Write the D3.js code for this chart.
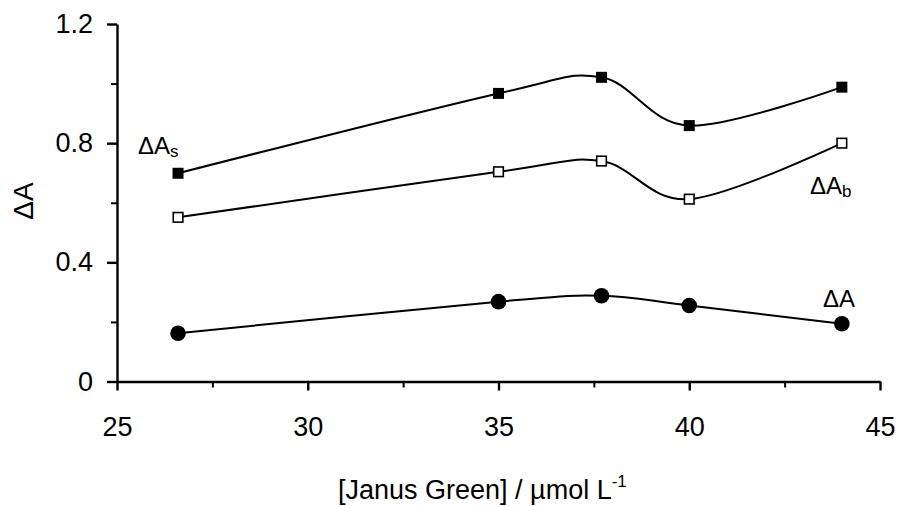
<!DOCTYPE html>
<html>
<head>
<meta charset="utf-8">
<script src="https://cdn.jsdelivr.net/npm/d3@7.9.0/dist/d3.min.js"></script>
<style>
  body { margin: 0; background: #fff; }
  svg { font-family: "Liberation Sans", Arial, sans-serif; }
</style>
</head>
<body>
<svg id="chart" width="901" height="506"></svg>
<script>
// concentrations of Janus Green (umol/L)
const conc = [26.6, 35, 37.7, 40, 44];
// absorbance series
const dAs = [0.699, 0.967, 1.021, 0.859, 0.988];
const dAb = [0.551, 0.704, 0.740, 0.612, 0.800];
const dA  = [0.162, 0.268, 0.288, 0.255, 0.194];

const xTicks = [25, 30, 35, 40, 45];
const xMinor = [27.5, 32.5, 37.5, 42.5];
const yTicks = [0, 0.4, 0.8, 1.2];
const yTickLabels = ['0', '0.4', '0.8', '1.2'];
const yMinor = [0.2, 0.6, 1.0];

const svg = d3.select('#chart');

const x = d3.scaleLinear().domain([25, 45]).range([117, 880]);
const y = d3.scaleLinear().domain([0, 1.2]).range([381.5, 24]);

// minor ticks first (no labels)
svg.append('g')
  .attr('transform', `translate(0,${y(0)})`)
  .call(d3.axisBottom(x).tickValues(xMinor).tickSize(6).tickFormat(''))
  .call(g => g.select('.domain').remove())
  .call(g => g.selectAll('line').attr('stroke-width', 2));

svg.append('g')
  .attr('transform', `translate(${x(25)},0)`)
  .call(d3.axisLeft(y).tickValues(yMinor).tickSize(6).tickFormat(''))
  .call(g => g.select('.domain').remove())
  .call(g => g.selectAll('line').attr('stroke-width', 2));

// main axes
const xAxis = svg.append('g')
  .attr('transform', `translate(0,${y(0)})`)
  .call(d3.axisBottom(x).tickValues(xTicks).tickSize(9).tickSizeOuter(0).tickPadding(26));
xAxis.selectAll('line, path').attr('stroke-width', 2.4);
xAxis.selectAll('text')
  .attr('font-size', 27)
  .attr('fill', '#000')
  .attr('font-family', '"Liberation Sans", Arial, sans-serif');

const yAxis = svg.append('g')
  .attr('transform', `translate(${x(25)},0)`)
  .call(d3.axisLeft(y).tickValues(yTicks).tickSize(10).tickSizeOuter(0)
    .tickPadding(14).tickFormat((d, i) => yTickLabels[i]));
yAxis.selectAll('line, path').attr('stroke-width', 2.4);
yAxis.selectAll('text')
  .attr('font-size', 27)
  .attr('fill', '#000')
  .attr('font-family', '"Liberation Sans", Arial, sans-serif');

// axis titles
const xt = svg.append('text')
  .attr('x', 338).attr('y', 499)
  .attr('font-size', 27);
xt.append('tspan').text('[Janus Green] / \u00b5mol L');
xt.append('tspan').attr('font-size', 17).attr('dy', -12).text('-1');

svg.append('text')
  .attr('transform', 'translate(33,201) rotate(-90)')
  .attr('text-anchor', 'middle')
  .attr('font-size', 28)
  .text('\u0394A');

// lines
const line = d3.line()
  .x(d => x(d[0]))
  .y(d => y(d[1]))
  .curve(d3.curveCardinal.tension(0));

const series = [
  { vals: dAs, marker: 'filledSquare' },
  { vals: dAb, marker: 'openSquare' },
  { vals: dA, marker: 'circle' }
];

series.forEach(s => {
  const pts = conc.map((c, i) => [c, s.vals[i]]);
  svg.append('path')
    .datum(pts)
    .attr('d', line)
    .attr('fill', 'none')
    .attr('stroke', '#000')
    .attr('stroke-width', 2);

  if (s.marker === 'circle') {
    svg.selectAll(null)
      .data(pts)
      .join('circle')
      .attr('cx', d => x(d[0]))
      .attr('cy', d => y(d[1]))
      .attr('r', 7.8)
      .attr('fill', '#000');
  } else if (s.marker === 'filledSquare') {
    svg.selectAll(null)
      .data(pts)
      .join('rect')
      .attr('x', d => x(d[0]) - 5.5)
      .attr('y', d => y(d[1]) - 5.5)
      .attr('width', 11).attr('height', 11)
      .attr('fill', '#000');
  } else {
    svg.selectAll(null)
      .data(pts)
      .join('rect')
      .attr('x', d => x(d[0]) - 4.8)
      .attr('y', d => y(d[1]) - 4.8)
      .attr('width', 9.6).attr('height', 9.6)
      .attr('fill', '#fff')
      .attr('stroke', '#000')
      .attr('stroke-width', 1.6);
  }
});

// series labels
function seriesLabel(px, py, sub) {
  const t = svg.append('text').attr('x', px).attr('y', py).attr('font-size', 24);
  t.append('tspan').text('\u0394A');
  if (sub) t.append('tspan').attr('font-size', 17).attr('dy', 3).text(sub);
}
seriesLabel(138, 154, 's');
seriesLabel(810, 194, 'b');
seriesLabel(823, 307, null);
</script>
</body>
</html>
